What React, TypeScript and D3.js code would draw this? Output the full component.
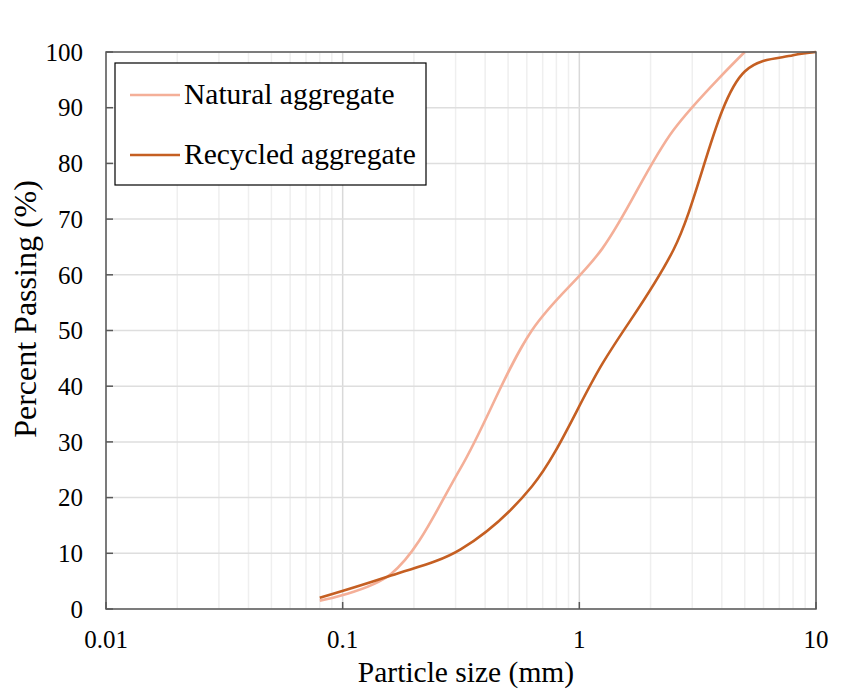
import React from "react";
import * as d3 from "d3";

// Sieve analysis: sieve size (mm) vs cumulative percent passing (%)
const naturalSize = [0.08, 0.16, 0.315, 0.63, 1.25, 2.5, 5.0];
const naturalPass = [1.5, 6.3, 25.3, 50, 64.7, 86, 100];

const recycledSize = [0.08, 0.16, 0.315, 0.63, 1.25, 2.5, 5.0, 8.0, 10.0];
const recycledPass = [2, 6, 10.7, 22, 44, 64.5, 96.5, 99.4, 100];

const xTicks = [0.01, 0.1, 1, 10];
const xTickLabels = ["0.01", "0.1", "1", "10"];
const yTicks = [0, 10, 20, 30, 40, 50, 60, 70, 80, 90, 100];

const seriesNames = ["Natural aggregate", "Recycled aggregate"];
const seriesColors = ["#F4AF98", "#C55F22"];

const W = 849;
const H = 689;
const left = 106;
const right = 816;
const top = 52;
const bottom = 609;

export default function App() {
  const x = d3.scaleLog().domain([0.01, 10]).range([left, right]);
  const y = d3.scaleLinear().domain([0, 100]).range([bottom, top]);

  const minorX: number[] = [];
  for (let e = -2; e < 1; e++) {
    for (let k = 2; k <= 9; k++) minorX.push(k * Math.pow(10, e));
  }

  // smoothed line through the sieve points
  const line = d3
    .line<[number, number]>()
    .x((d) => x(d[0]))
    .y((d) => y(d[1]))
    .curve(d3.curveCatmullRom.alpha(0.5));

  const natural = naturalSize.map((s, i) => [s, naturalPass[i]] as [number, number]);
  const recycled = recycledSize.map((s, i) => [s, recycledPass[i]] as [number, number]);
  const series = [natural, recycled];

  const font = "'Liberation Serif', 'Times New Roman', serif";

  return (
    <svg
      width={W}
      height={H}
      style={{ position: "absolute", left: 0, top: 0, background: "#fff" }}
      fontFamily={font}
    >
      {/* minor vertical grid */}
      {minorX.map((v) => (
        <line key={"mx" + v} x1={x(v)} x2={x(v)} y1={top} y2={bottom} stroke="#efefef" strokeWidth={1.5} />
      ))}
      {/* major vertical grid */}
      {xTicks.map((v) => (
        <line key={"gx" + v} x1={x(v)} x2={x(v)} y1={top} y2={bottom} stroke="#d9d9d9" strokeWidth={1.5} />
      ))}
      {/* horizontal grid */}
      {yTicks.map((v) => (
        <line key={"gy" + v} x1={left} x2={right} y1={y(v)} y2={y(v)} stroke="#dedede" strokeWidth={1.5} />
      ))}

      {/* curves */}
      {series.map((s, i) => (
        <path key={"s" + i} d={line(s) || ""} fill="none" stroke={seriesColors[i]} strokeWidth={2.6} strokeLinejoin="round" />
      ))}

      {/* plot frame */}
      <rect x={left} y={top} width={right - left} height={bottom - top} fill="none" stroke="#595959" strokeWidth={1.5} />

      {/* y ticks */}
      {yTicks.map((v) => (
        <g key={"ty" + v}>
          <line x1={left} x2={left + 7} y1={y(v)} y2={y(v)} stroke="#595959" strokeWidth={1.5} />
          <text x={left - 23} y={y(v)} dy="0.35em" textAnchor="end" fontSize={25} fill="#000">
            {v}
          </text>
        </g>
      ))}
      {/* x ticks */}
      {xTicks.map((v, i) => (
        <g key={"tx" + v}>
          <line x1={x(v)} x2={x(v)} y1={bottom} y2={bottom - 7} stroke="#595959" strokeWidth={1.5} />
          <text x={x(v)} y={648} textAnchor="middle" fontSize={25} fill="#000">
            {xTickLabels[i]}
          </text>
        </g>
      ))}

      {/* axis titles */}
      <text x={466} y={682} textAnchor="middle" fontSize={29.5} fill="#000">
        Particle size (mm)
      </text>
      <text transform={`translate(36, 309) rotate(-90)`} textAnchor="middle" fontSize={32} fill="#000">
        Percent Passing (%)
      </text>

      {/* legend */}
      <rect x={115} y={63} width={311} height={122} fill="#fff" stroke="#000" strokeWidth={1.2} />
      {seriesNames.map((n, i) => (
        <g key={"lg" + i}>
          <line x1={130} x2={180} y1={95 + i * 60} y2={95 + i * 60} stroke={seriesColors[i]} strokeWidth={2.6} />
          <text x={184} y={104 + i * 60} fontSize={29.5} fill="#000">
            {n}
          </text>
        </g>
      ))}
    </svg>
  );
}
